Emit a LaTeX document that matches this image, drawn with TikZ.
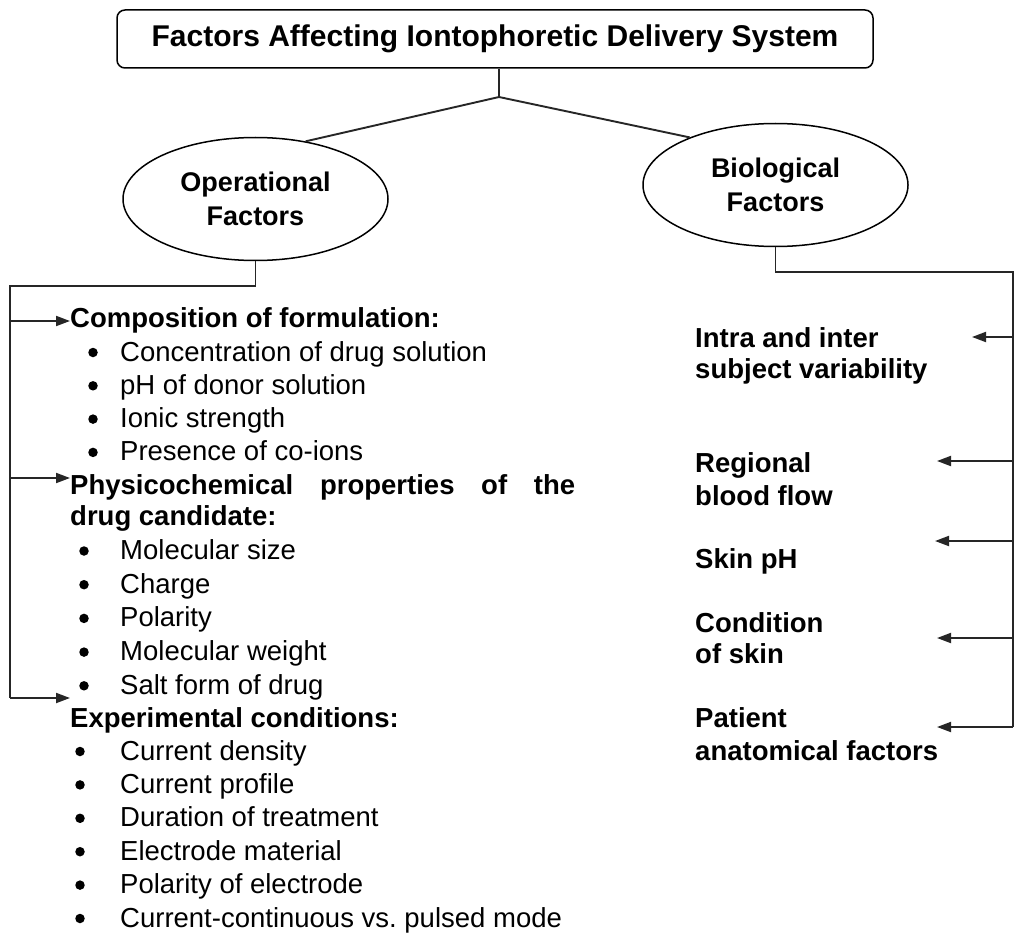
\documentclass[tikz,border=0pt]{standalone}
\usepackage{fontspec}
\setmainfont{Liberation Sans}
\usetikzlibrary{arrows.meta,shapes.geometric}
\frenchspacing
\begin{document}
\begin{tikzpicture}[x=1pt,y=-1pt,
  conn/.style={line width=1.9pt,black!85},
  arr/.style={conn,-{Triangle[length=14pt,width=10pt]}},
  oval/.style={ellipse,draw,line width=1.5pt,minimum width=265pt,minimum height=123pt,inner sep=0pt,align=center,font=\fontsize{27}{34}\selectfont\bfseries},
  head/.style={anchor=base west,inner sep=0pt,font=\fontsize{27.5}{33}\selectfont\bfseries},
  itemtxt/.style={anchor=base west,inner sep=0pt,font=\fontsize{27.5}{33}\selectfont},
  dotmark/.style={circle,fill=black,inner sep=0pt,minimum size=9.5pt},
  rlab/.style={anchor=base west,inner sep=0pt,font=\fontsize{27.5}{33}\selectfont\bfseries}]
\useasboundingbox (0,0) rectangle (1024,944);
\fill[white] (0,0) rectangle (1024,944);

% title
\node[draw,rounded corners=8pt,line width=1.5pt,minimum width=756pt,minimum height=58pt,inner sep=0pt,
  font=\fontsize{30}{36}\selectfont\bfseries] (title) at (495,39) {Factors Affecting Iontophoretic Delivery System};

% ellipses
\node[oval] (op) at (255.5,199) {Operational\\Factors};
\node[oval] (bio) at (775.5,185) {Biological\\Factors};

\coordinate (j) at (499,97);
\draw[conn] (title.south -| j) -- (j);
\draw[conn] (op.49) -- (j) -- (bio.151);

% left block
\node[head] (comp) at (70,327) {Composition of formulation:};
\foreach \t [count=\i] in {Concentration of drug solution,pH of donor solution,Ionic strength,Presence of co-ions}{
  \node[dotmark] (cd\i) at (93,{361+33.3*(\i-1)-8.5}) {};
  \node[itemtxt] (ct\i) at (120,{361+33.3*(\i-1)}) {\t};
}
\node[head] (phys) at (70,494) {\makebox[505pt][s]{Physicochemical properties of the}};
\node[head] (phys2) at (70,525) {drug candidate:};
\foreach \t [count=\i] in {Molecular size,Charge,Polarity,Molecular weight,Salt form of drug}{
  \node[dotmark] (pd\i) at (84,{559.5+33.7*(\i-1)-8.5}) {};
  \node[itemtxt] (pt\i) at (120,{559.5+33.7*(\i-1)}) {\t};
}
\node[head] (exp) at (70,727) {Experimental conditions:};
\foreach \t [count=\i] in {Current density,Current profile,Duration of treatment,Electrode material,Polarity of electrode,Current-continuous vs. pulsed mode}{
  \node[dotmark] (ed\i) at (80,{760+33.4*(\i-1)-8.5}) {};
  \node[itemtxt] (et\i) at (120,{760+33.4*(\i-1)}) {\t};
}

% left connector
\coordinate (lt) at (10,286);
\coordinate (lb) at (10,698);
\coordinate (la1) at (10,321);
\coordinate (la2) at (10,478);
\draw[conn] (op.south) |- (lt) -- (lb);
\draw[arr] (la1) -- (la1 -| comp.west);
\draw[arr] (la2) -- (la2 -| phys.west);
\draw[arr] (lb) -- (lb -| exp.west);

% right block
\node[rlab] (r1a) at (695,347) {Intra and inter};
\node[rlab] (r1b) at (695,378) {subject variability};
\node[rlab] (r2a) at (695,472) {Regional};
\node[rlab] (r2b) at (695,505) {blood flow};
\node[rlab] (r3a) at (695,568) {Skin pH};
\node[rlab] (r4a) at (695,632) {Condition};
\node[rlab] (r4b) at (695,663) {of skin};
\node[rlab] (r5a) at (695,727) {Patient};
\node[rlab] (r5b) at (695,760) {anatomical factors};

\coordinate (rc) at (1013,272);
\coordinate (rb) at (1013,727);
\draw[conn] (bio.south) |- (rc) -- (rb);
\coordinate (ra1) at (1013,337); \coordinate (rt1) at (972,337);
\coordinate (ra2) at (1013,461); \coordinate (rt2) at (937,461);
\coordinate (ra3) at (1013,541); \coordinate (rt3) at (935,541);
\coordinate (ra4) at (1013,638); \coordinate (rt4) at (937,638);
\coordinate (rt5) at (937,727);
\draw[arr] (ra1) -- (rt1);
\draw[arr] (ra2) -- (rt2);
\draw[arr] (ra3) -- (rt3);
\draw[arr] (ra4) -- (rt4);
\draw[arr] (rb) -- (rt5);
\end{tikzpicture}
\end{document}
